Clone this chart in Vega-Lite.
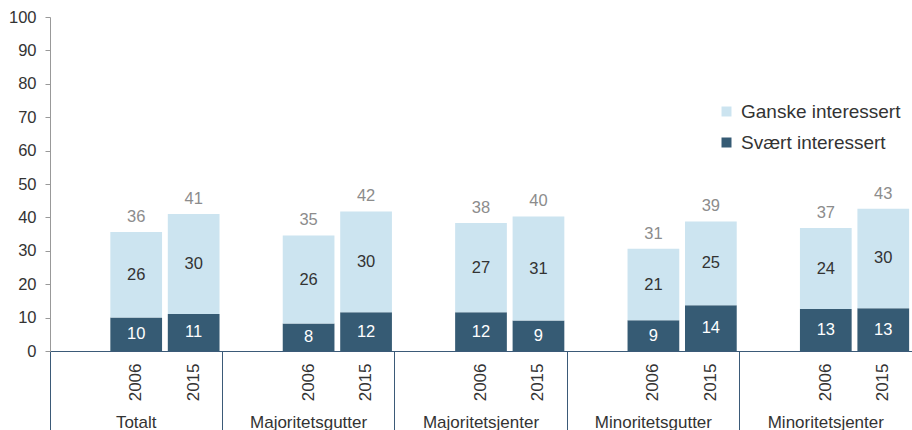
{
  "$schema": "https://vega.github.io/schema/vega-lite/v6.json",
  "width": 862,
  "height": 334,
  "autosize": {"type": "none"},
  "padding": {"left": 50, "top": 17, "right": 0, "bottom": 79},
  "background": "white",
  "config": {"font": "Liberation Sans", "view": {"stroke": null}, "axis": {"grid": false}},
  "data": {
    "values": [
      {"group": "Totalt", "year": "2006", "type": "Svært interessert", "value": 10.0},
      {"group": "Totalt", "year": "2006", "type": "Ganske interessert", "value": 25.6},
      {"group": "Totalt", "year": "2015", "type": "Svært interessert", "value": 11.1},
      {"group": "Totalt", "year": "2015", "type": "Ganske interessert", "value": 29.9},
      {"group": "Majoritetsgutter", "year": "2006", "type": "Svært interessert", "value": 8.2},
      {"group": "Majoritetsgutter", "year": "2006", "type": "Ganske interessert", "value": 26.4},
      {"group": "Majoritetsgutter", "year": "2015", "type": "Svært interessert", "value": 11.6},
      {"group": "Majoritetsgutter", "year": "2015", "type": "Ganske interessert", "value": 30.2},
      {"group": "Majoritetsjenter", "year": "2006", "type": "Svært interessert", "value": 11.6},
      {"group": "Majoritetsjenter", "year": "2006", "type": "Ganske interessert", "value": 26.7},
      {"group": "Majoritetsjenter", "year": "2015", "type": "Svært interessert", "value": 9.1},
      {"group": "Majoritetsjenter", "year": "2015", "type": "Ganske interessert", "value": 31.2},
      {"group": "Minoritetsgutter", "year": "2006", "type": "Svært interessert", "value": 9.2},
      {"group": "Minoritetsgutter", "year": "2006", "type": "Ganske interessert", "value": 21.4},
      {"group": "Minoritetsgutter", "year": "2015", "type": "Svært interessert", "value": 13.7},
      {"group": "Minoritetsgutter", "year": "2015", "type": "Ganske interessert", "value": 25.1},
      {"group": "Minoritetsjenter", "year": "2006", "type": "Svært interessert", "value": 12.6},
      {"group": "Minoritetsjenter", "year": "2006", "type": "Ganske interessert", "value": 24.2},
      {"group": "Minoritetsjenter", "year": "2015", "type": "Svært interessert", "value": 12.8},
      {"group": "Minoritetsjenter", "year": "2015", "type": "Ganske interessert", "value": 29.8}
    ]
  },
  "transform": [{"calculate": "datum.group + '|' + datum.year", "as": "slot"}],
  "layer": [
    {
      "mark": {"type": "bar", "width": {"band": 0.9}},
      "encoding": {
        "x": {
          "field": "slot", "type": "nominal",
          "scale": {"domain": ["Totalt|", "Totalt|2006", "Totalt|2015", "Majoritetsgutter|", "Majoritetsgutter|2006", "Majoritetsgutter|2015", "Majoritetsjenter|", "Majoritetsjenter|2006", "Majoritetsjenter|2015", "Minoritetsgutter|", "Minoritetsgutter|2006", "Minoritetsgutter|2015", "Minoritetsjenter|", "Minoritetsjenter|2006", "Minoritetsjenter|2015"], "paddingInner": 0, "paddingOuter": 0},
          "axis": {
            "orient": "bottom", "title": null,
            "values": ["Totalt|2006", "Totalt|2015", "Majoritetsgutter|2006", "Majoritetsgutter|2015", "Majoritetsjenter|2006", "Majoritetsjenter|2015", "Minoritetsgutter|2006", "Minoritetsgutter|2015", "Minoritetsjenter|2006", "Minoritetsjenter|2015"],
            "labelExpr": "split(datum.value, '|')[1]",
            "labelAngle": -90, "labelAlign": "right", "labelBaseline": "middle",
            "labelFontSize": 17, "labelColor": "#333333", "labelPadding": 12,
            "ticks": false, "tickSize": 0, "labelOverlap": false,
            "domain": true, "domainColor": "#3b5a78", "domainWidth": 1
          }
        },
        "y": {
          "field": "value", "type": "quantitative", "stack": "zero",
          "scale": {"domain": [0, 100], "nice": false},
          "axis": {"title": null, "values": [0, 10, 20, 30, 40, 50, 60, 70, 80, 90, 100], "domainColor": "#999999", "tickColor": "#999999", "tickSize": 5, "labelFontSize": 16.5, "labelColor": "#333333", "labelPadding": 9}
        },
        "color": {
          "field": "type", "type": "nominal",
          "scale": {"domain": ["Ganske interessert", "Svært interessert"], "range": ["#cce4f0", "#365b74"]},
          "legend": {"orient": "none", "legendX": 667, "legendY": 85, "title": null, "symbolType": "square", "symbolSize": 100, "symbolStrokeWidth": 0, "labelFontSize": 19, "labelColor": "#333333", "rowPadding": 11, "labelOffset": 5, "padding": 0}
        },
        "order": {"field": "type", "sort": "descending"}
      }
    },
    {
      "mark": {"type": "text", "fontSize": 16.5},
      "encoding": {
        "x": {
          "field": "slot", "type": "nominal",
          "scale": {"domain": ["Totalt|", "Totalt|2006", "Totalt|2015", "Majoritetsgutter|", "Majoritetsgutter|2006", "Majoritetsgutter|2015", "Majoritetsjenter|", "Majoritetsjenter|2006", "Majoritetsjenter|2015", "Minoritetsgutter|", "Minoritetsgutter|2006", "Minoritetsgutter|2015", "Minoritetsjenter|", "Minoritetsjenter|2006", "Minoritetsjenter|2015"], "paddingInner": 0, "paddingOuter": 0},
          "axis": {
            "orient": "bottom", "title": null,
            "values": ["Totalt|2006", "Majoritetsgutter|2006", "Majoritetsjenter|2006", "Minoritetsgutter|2006", "Minoritetsjenter|2006"],
            "labelExpr": "split(datum.value, '|')[0]",
            "labelAngle": 0, "labelAlign": "center", "labelBaseline": "alphabetic",
            "labelFontSize": 17, "labelColor": "#333333", "labelPadding": 76,
            "ticks": false, "tickSize": 0, "labelOverlap": false, "domain": false
          }
        },
        "y": {
          "field": "value", "type": "quantitative", "stack": "zero", "bandPosition": 0.5,
          "scale": {"domain": [0, 100], "nice": false},
          "axis": {"title": null, "values": [0, 10, 20, 30, 40, 50, 60, 70, 80, 90, 100], "domainColor": "#999999", "tickColor": "#999999", "tickSize": 5, "labelFontSize": 16.5, "labelColor": "#333333", "labelPadding": 9}
        },
        "detail": {"field": "type"},
        "order": {"field": "type", "sort": "descending"},
        "text": {"field": "value", "type": "quantitative", "format": ".0f"},
        "color": {"condition": {"test": "datum.type === 'Svært interessert'", "value": "#ffffff"}, "value": "#333333"}
      }
    },
    {
      "transform": [{"aggregate": [{"op": "sum", "field": "value", "as": "total"}], "groupby": ["slot"]}],
      "mark": {"type": "text", "fontSize": 16.5, "color": "#8c8c8c", "baseline": "bottom", "dy": -7},
      "encoding": {
        "x": {
          "field": "slot", "type": "nominal",
          "scale": {"domain": ["Totalt|", "Totalt|2006", "Totalt|2015", "Majoritetsgutter|", "Majoritetsgutter|2006", "Majoritetsgutter|2015", "Majoritetsjenter|", "Majoritetsjenter|2006", "Majoritetsjenter|2015", "Minoritetsgutter|", "Minoritetsgutter|2006", "Minoritetsgutter|2015", "Minoritetsjenter|", "Minoritetsjenter|2006", "Minoritetsjenter|2015"], "paddingInner": 0, "paddingOuter": 0},
          "axis": {
            "orient": "bottom", "title": null,
            "values": ["Totalt|", "Majoritetsgutter|", "Majoritetsjenter|", "Minoritetsgutter|", "Minoritetsjenter|"],
            "bandPosition": 0, "labels": false, "ticks": true, "tickSize": 80,
            "tickColor": "#3b5a78", "tickWidth": 1, "domain": false
          }
        },
        "y": {
          "field": "total", "type": "quantitative",
          "scale": {"domain": [0, 100], "nice": false},
          "axis": {"title": null, "values": [0, 10, 20, 30, 40, 50, 60, 70, 80, 90, 100], "domainColor": "#999999", "tickColor": "#999999", "tickSize": 5, "labelFontSize": 16.5, "labelColor": "#333333", "labelPadding": 9}
        },
        "text": {"field": "total", "type": "quantitative", "format": ".0f"}
      }
    }
  ],
  "resolve": {"axis": {"x": "independent"}}
}
